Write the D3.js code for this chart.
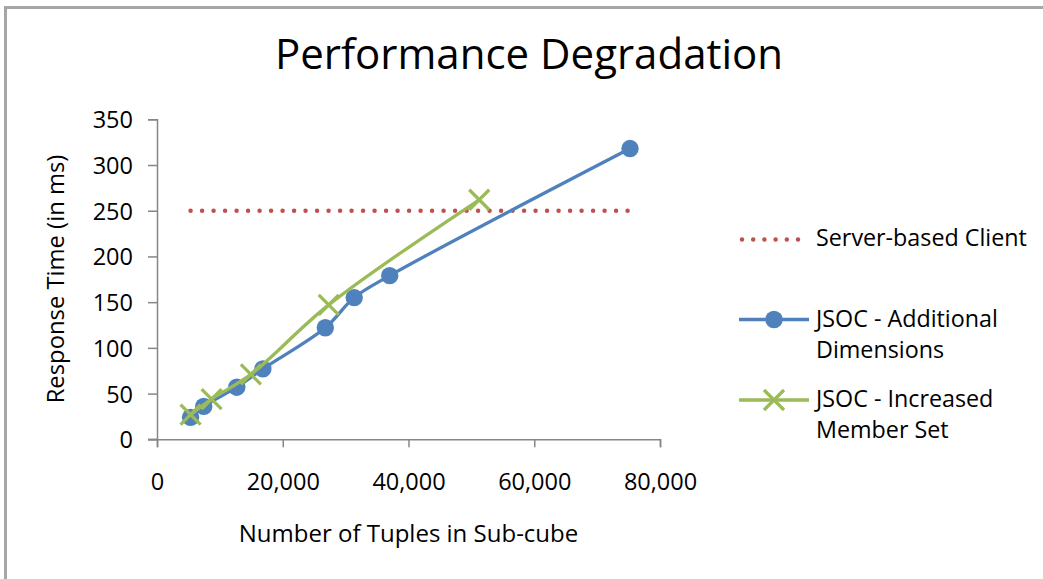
<!DOCTYPE html>
<html>
<head>
<meta charset="utf-8">
<script src="https://cdn.jsdelivr.net/npm/d3@7"></script>
<style>
  html, body { margin: 0; padding: 0; background: #fff; }
  svg { display: block; }
  text { font-family: "Open Sans", sans-serif; fill: #000; }
</style>
</head>
<body>
<svg id="chart" width="1043" height="579"></svg>
<script>
// ---- data ----
const title = "Performance Degradation";
const xTitle = "Number of Tuples in Sub-cube";
const yTitle = "Response Time (in ms)";
const xTicks = [0, 20000, 40000, 60000, 80000];
const yTicks = [0, 50, 100, 150, 200, 250, 300, 350];

const serverName = "Server-based Client";
const serverX = [5340, 75100];
const serverY = [250, 250];

const addDimName = ["JSOC - Additional", "Dimensions"];
const addDimX = [5340, 7430, 12690, 16840, 26770, 31370, 37010, 75230];
const addDimY = [24, 36, 57, 77, 122, 155, 179, 318];

const incMemName = ["JSOC - Increased", "Member Set"];
const incMemX = [5340, 8680, 14930, 27310, 51250];
const incMemY = [27, 44, 71, 147, 262];

// ---- drawing ----
const svg = d3.select("#chart");
svg.append("rect").attr("x", 0).attr("y", 0).attr("width", 1043).attr("height", 579).attr("fill", "#fff");
// outer frame (only top and left edges are visible)
svg.append("rect").attr("x", 5.5).attr("y", 7.5).attr("width", 1200).attr("height", 800)
  .attr("fill", "none").attr("stroke", "#a6a6a6").attr("stroke-width", 3);

const x = d3.scaleLinear().domain([0, 80000]).range([157, 660]);
const y = d3.scaleLinear().domain([0, 350]).range([439.3, 119.3]);

const axisColor = "#868686";
const tickFont = 23.5;

// y axis
const gy = svg.append("g").attr("transform", `translate(${x(0)},0)`)
  .call(d3.axisLeft(y).tickValues(yTicks).tickSize(9).tickPadding(15).tickFormat(d3.format("d")));
gy.selectAll("path.domain").attr("stroke", axisColor).attr("stroke-width", 1.5);
gy.selectAll(".tick line").attr("stroke", axisColor).attr("stroke-width", 1.5);
gy.selectAll(".tick text").attr("font-family", "Open Sans").attr("font-size", tickFont).attr("fill", "#000")
  .attr("dy", "0.36em");

// x axis
const gx = svg.append("g").attr("transform", `translate(0,${y(0)})`)
  .call(d3.axisBottom(x).tickValues(xTicks).tickSize(8).tickSizeOuter(8).tickFormat(d3.format(",")));
gx.selectAll("path.domain").attr("stroke", axisColor).attr("stroke-width", 1.5);
gx.selectAll(".tick line").attr("stroke", axisColor).attr("stroke-width", 1.5);
gx.selectAll(".tick text").attr("font-family", "Open Sans").attr("font-size", tickFont).attr("fill", "#000")
  .attr("dy", null).attr("y", 490 - y(0));
// y-axis tick at zero extends left
svg.append("line").attr("x1", x(0) - 9).attr("x2", x(0)).attr("y1", y(0)).attr("y2", y(0))
  .attr("stroke", axisColor).attr("stroke-width", 1.5);

// titles
svg.append("text").attr("x", 529).attr("y", 69).attr("text-anchor", "middle")
  .attr("font-size", 42).text(title);
svg.append("text").attr("x", (x(0) + x(80000)) / 2).attr("y", 541.7).attr("text-anchor", "middle")
  .attr("font-size", 24).text(xTitle);
svg.append("text").attr("transform", "translate(64,279) rotate(-90)").attr("text-anchor", "middle")
  .attr("font-size", 23.8).text(yTitle);

const red = "#c0504d", blue = "#4f81bd", green = "#9bbb59";
const line = d3.line().x(d => x(d[0])).y(d => y(d[1])).curve(d3.curveCatmullRom.alpha(0.5));

// server-based client (dotted)
const serverData = d3.zip(serverX, serverY);
svg.append("path").attr("d", d3.line().x(d => x(d[0])).y(d => y(d[1]))(serverData))
  .attr("fill", "none").attr("stroke", red).attr("stroke-width", 4.5)
  .attr("stroke-linecap", "round").attr("stroke-dasharray", "0 11.5");

// additional dimensions
const addData = d3.zip(addDimX, addDimY);
svg.append("path").attr("d", line(addData)).attr("fill", "none")
  .attr("stroke", blue).attr("stroke-width", 3.3).attr("stroke-linejoin", "round");
svg.selectAll("circle.add").data(addData).join("circle").attr("class", "add")
  .attr("cx", d => x(d[0])).attr("cy", d => y(d[1])).attr("r", 8.7).attr("fill", blue);

// increased member set
const incData = d3.zip(incMemX, incMemY);
svg.append("path").attr("d", line(incData)).attr("fill", "none")
  .attr("stroke", green).attr("stroke-width", 3.3).attr("stroke-linejoin", "round");
const xMark = (cx, cy, s) => `M${cx - s},${cy - s}L${cx + s},${cy + s}M${cx - s},${cy + s}L${cx + s},${cy - s}`;
svg.selectAll("path.inc").data(incData).join("path").attr("class", "inc")
  .attr("d", d => xMark(x(d[0]), y(d[1]), 10))
  .attr("stroke", green).attr("stroke-width", 3.3).attr("fill", "none");

// legend
const lg = svg.append("g");
lg.append("line").attr("x1", 742).attr("x2", 798).attr("y1", 239.5).attr("y2", 239.5)
  .attr("stroke", red).attr("stroke-width", 4.5).attr("stroke-linecap", "round").attr("stroke-dasharray", "0 11.2");
lg.append("text").attr("x", 816).attr("y", 246).attr("font-size", 23.3).text(serverName);

lg.append("line").attr("x1", 739).attr("x2", 809).attr("y1", 319.5).attr("y2", 319.5)
  .attr("stroke", blue).attr("stroke-width", 3.3);
lg.append("circle").attr("cx", 774).attr("cy", 319.5).attr("r", 8.8).attr("fill", blue);
lg.selectAll("text.add").data(addDimName).join("text").attr("class", "add")
  .attr("x", 816).attr("y", (d, i) => 326.7 + i * 31.6).attr("font-size", 23.3).text(d => d);

lg.append("line").attr("x1", 739).attr("x2", 809).attr("y1", 400).attr("y2", 400)
  .attr("stroke", green).attr("stroke-width", 3.3);
lg.append("path").attr("d", xMark(774, 400, 10)).attr("stroke", green).attr("stroke-width", 3.3);
lg.selectAll("text.inc").data(incMemName).join("text").attr("class", "inc")
  .attr("x", 816).attr("y", (d, i) => 406.7 + i * 31.6).attr("font-size", 23.3).text(d => d);
</script>
</body>
</html>
